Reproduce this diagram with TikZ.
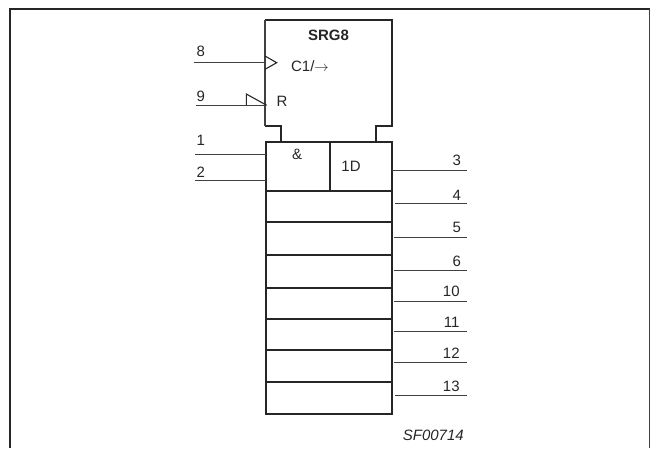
\documentclass[tikz,border=0pt]{standalone}
\usepackage{fontspec}
\setmainfont{Liberation Sans}
\tikzset{
	every node/.style={inner sep=0pt, outer sep=0pt, text=black!85, font=\fontsize{15}{17}\selectfont},
	cell/.style={draw=black!85, line width=2pt, anchor=north west, minimum width=126.5pt},
	halfcell/.style={cell, minimum height=49pt},
	body/.style={draw=black!85, line width=2pt, line join=miter},
	wire/.style={draw=black!75, line width=1pt},
	tri/.style={draw=black!85, line width=1.1pt, line join=miter},
	frameline/.style={draw=black!85, line width=2.4pt}
}
\begin{document}
\begin{tikzpicture}[x=1pt,y=1pt]
	\useasboundingbox (0,0) rectangle (650,-448);
	\coordinate (frameA) at (10,-448);
	\coordinate (frameB) at (10,-9);
	\coordinate (frameC) at (649.5,-9);
	\coordinate (frameD) at (649.5,-448);
	\draw [frameline] (frameA) -- (frameB) -- (frameC);
	\draw [wire, line width=1.4pt] (frameC) -- (frameD);
	\coordinate (srgTL) at (265,-19.5);
	\coordinate (srgTR) at (392,-19.5);
	\coordinate (srgBR) at (392,-126);
	\coordinate (srgBL) at (265,-126);
	\coordinate (notchR) at (376,-126);
	\coordinate (notchL) at (280.5,-126);
	\coordinate (footR) at (376,-142);
	\coordinate (footL) at (280.5,-142);
	\draw [body] (srgTL) -- (srgTR) -- (srgBR) -- (notchR) -- (footR);
	\draw [body] (srgBL) -- (notchL) -- (footL);
	\draw [wire, line width=1.3pt] (srgTL) -- (srgBL);
	\node [halfcell, minimum width=64pt] (andcell) at (266,-142) {};
	\node [halfcell, minimum width=62.5pt] (dcell) at (329.5,-142) {};
	\node [cell, minimum height=30.7pt] (row4) at (265.7,-191) {};
	\node [cell, minimum height=33.3pt] (row5) at (265.7,-221.7) {};
	\node [cell, minimum height=33.3pt] (row6) at (265.7,-255) {};
	\node [cell, minimum height=30.4pt] (row10) at (265.7,-288.3) {};
	\node [cell, minimum height=31pt] (row11) at (265.7,-318.7) {};
	\node [cell, minimum height=32.3pt] (row12) at (265.7,-349.7) {};
	\node [cell, minimum height=32pt] (row13) at (265.7,-382) {};
	\node (srg) at (328.5,-35) {\bfseries SRG8};
	\node (clk) at (310,-66) {C1/$\rightarrow$};
	\node (rst) at (282,-101.7) {R};
	\node (amp) at (297,-154) {\&};
	\node (oneD) at (351,-166.7) {1D};
	\coordinate (pin8) at (194,-62.7);
	\coordinate (pin9) at (196,-105.3);
	\coordinate (pin1) at (195,-154);
	\coordinate (pin2) at (195,-180.7);
	\coordinate (pin3) at (467,-170);
	\coordinate (pin4) at (467,-203.7);
	\coordinate (pin5) at (467,-237);
	\coordinate (pin6) at (467,-270);
	\coordinate (pin10) at (467,-301);
	\coordinate (pin11) at (467,-331.7);
	\coordinate (pin12) at (467,-362.7);
	\coordinate (pin13) at (467,-395.7);
	\draw [wire] (pin8) -- (srgTL |- pin8);
	\draw [wire] (pin9) -- (srgTL |- pin9);
	\draw [wire] (pin1) -- (andcell.west |- pin1);
	\draw [wire] (pin2) -- (andcell.west |- pin2);
	\draw [wire] (dcell.east |- pin3) -- (pin3);
	\draw [wire, shorten <=3pt] (row4.east |- pin4) -- (pin4);
	\draw [wire, shorten <=2pt] (row5.east |- pin5) -- (pin5);
	\draw [wire, shorten <=2pt] (row6.east |- pin6) -- (pin6);
	\draw [wire, shorten <=2pt] (row10.east |- pin10) -- (pin10);
	\draw [wire, shorten <=2pt] (row11.east |- pin11) -- (pin11);
	\draw [wire, shorten <=2pt] (row12.east |- pin12) -- (pin12);
	\draw [wire, shorten <=3pt] (row13.east |- pin13) -- (pin13);
	\coordinate (clkA) at (265,-56);
	\coordinate (clkB) at (276.7,-62.7);
	\coordinate (clkC) at (265,-69.3);
	\draw [tri] (clkA) -- (clkB) -- (clkC);
	\coordinate (rstA) at (246.3,-105.3);
	\coordinate (rstB) at (246.3,-94);
	\coordinate (rstC) at (266.7,-105.3);
	\draw [tri] (rstA) -- (rstB) -- (rstC);
	\node (lab8) at (200.7,-51.7) {8};
	\node (lab9) at (200.7,-96) {9};
	\node (lab1) at (200.7,-140.7) {1};
	\node (lab2) at (200.7,-172.3) {2};
	\node (lab3) at (456.7,-160.5) {3};
	\node (lab4) at (456.7,-195) {4};
	\node (lab5) at (456.7,-227.7) {5};
	\node (lab6) at (456.7,-261) {6};
	\node (lab10) at (451.3,-291.7) {10};
	\node (lab11) at (451.7,-322.7) {11};
	\node (lab12) at (451.3,-353.3) {12};
	\node (lab13) at (451.3,-386.7) {13};
	\node [font=\fontsize{15}{17}\selectfont\itshape] (code) at (433.3,-435.7) {SF00714};
\end{tikzpicture}
\end{document}
